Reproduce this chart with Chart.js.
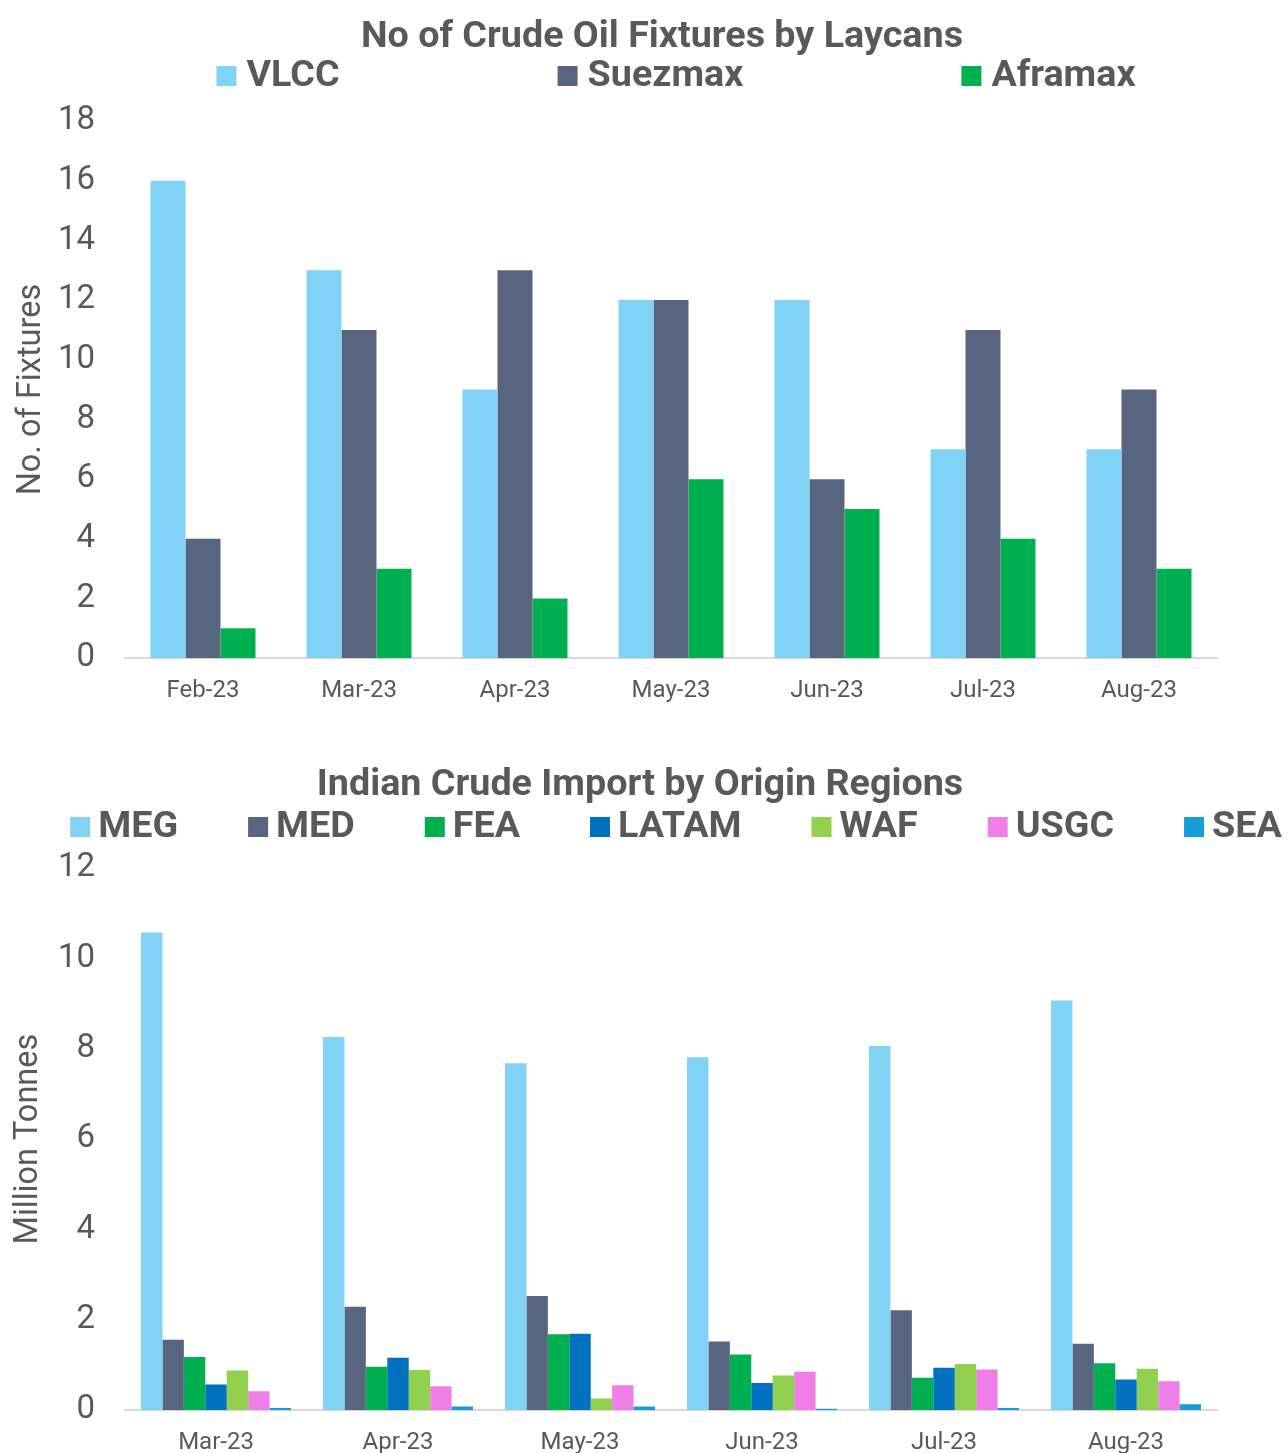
<!DOCTYPE html>
<html>
<head>
<meta charset="utf-8">
<script src="https://cdn.jsdelivr.net/npm/chart.js@4.4.1/dist/chart.umd.min.js"></script>
<style>
  html, body { margin: 0; padding: 0; background: #ffffff; }
  body { width: 1288px; height: 1453px; position: relative; overflow: hidden; }
  .panel { position: absolute; left: 0; width: 1288px; }
  #topPanel { top: 0; height: 723px; }
  #bottomPanel { top: 745px; height: 730px; }
</style>
</head>
<body>
<div class="panel" id="topPanel"><canvas id="fixturesChart"></canvas></div>
<div class="panel" id="bottomPanel"><canvas id="importChart"></canvas></div>
<script>
// Fixtures by laycan month
const fixtureMonths = ['Feb-23', 'Mar-23', 'Apr-23', 'May-23', 'Jun-23', 'Jul-23', 'Aug-23'];
const vlcc     = [16, 13, 9, 12, 12, 7, 7];
const suezmax  = [4, 11, 13, 12, 6, 11, 9];
const aframax  = [1, 3, 2, 6, 5, 4, 3];

// Indian crude imports by origin region (million tonnes)
const importMonths = ['Mar-23', 'Apr-23', 'May-23', 'Jun-23', 'Jul-23', 'Aug-23'];
const meg   = [10.57, 8.26, 7.68, 7.81, 8.06, 9.07];
const med   = [1.56, 2.29, 2.53, 1.52, 2.21, 1.47];
const fea   = [1.18, 0.96, 1.68, 1.23, 0.72, 1.04];
const latam = [0.57, 1.16, 1.69, 0.60, 0.94, 0.68];
const waf   = [0.88, 0.89, 0.26, 0.77, 1.02, 0.92];
const usgc  = [0.42, 0.53, 0.55, 0.85, 0.90, 0.64];
const sea   = [0.05, 0.08, 0.08, 0.03, 0.05, 0.13];

const TEXT = '#595959';
const FONT = 'Roboto, "Liberation Sans", Arial, sans-serif';
const PLOT_LEFT = 125;

// Header: bold title plus a legend row with wide, even spacing between entries
const chartHeader = {
  id: 'chartHeader',
  afterDraw(chart, args, opts) {
    const ctx = chart.ctx;
    ctx.save();
    ctx.font = `bold ${opts.fontSize}px ${FONT}`;
    ctx.fillStyle = TEXT;
    ctx.textBaseline = 'middle';
    ctx.textAlign = 'center';
    ctx.fillText(opts.title, opts.titleX, opts.titleY);

    const items = chart.data.datasets.map(d => ({ text: d.label, color: d.backgroundColor }));
    const widths = items.map(it => opts.box + opts.textGap + ctx.measureText(it.text).width);
    const total = widths.reduce((a, b) => a + b, 0) + opts.gap * (items.length - 1);
    let x = opts.legendX - total / 2;
    ctx.textAlign = 'left';
    items.forEach((it, i) => {
      ctx.fillStyle = it.color;
      ctx.fillRect(x, opts.legendY - opts.box / 2, opts.box, opts.box);
      ctx.fillStyle = TEXT;
      ctx.fillText(it.text, x + opts.box + opts.textGap, opts.legendY + 1);
      x += widths[i] + opts.gap;
    });
    ctx.restore();
  }
};

function barSet(label, data, color) {
  return { label, data, backgroundColor: color, borderWidth: 0, barPercentage: 1.0 };
}

function axes(yMax, yTitle, padLeft) {
  return {
    x: {
      grid: { display: false, drawTicks: false },
      border: { display: true, color: '#d9d9d9', width: 2 },
      ticks: { color: TEXT, font: { family: FONT, size: 24 }, padding: 18, maxRotation: 0 }
    },
    y: {
      min: 0, max: yMax,
      grid: { display: false, drawTicks: false },
      border: { display: false },
      ticks: { stepSize: 2, color: TEXT, font: { family: FONT, size: 33 }, padding: 30 },
      title: { display: true, text: yTitle, color: TEXT, font: { family: FONT, size: 32.5 }, padding: { top: 0, bottom: 6 } },
      afterFit(scale) { scale.width = PLOT_LEFT - padLeft; }
    }
  };
}

new Chart(document.getElementById('fixturesChart'), {
  type: 'bar',
  data: {
    labels: fixtureMonths,
    datasets: [
      barSet('VLCC', vlcc, '#81D3F6'),
      barSet('Suezmax', suezmax, '#58657F'),
      barSet('Aframax', aframax, '#00B050')
    ].map(d => Object.assign(d, { categoryPercentage: 0.673 }))
  },
  options: {
    responsive: true,
    maintainAspectRatio: false,
    animation: false,
    layout: { padding: { left: 12, right: 71, top: 121, bottom: 0 } },
    plugins: {
      legend: { display: false },
      tooltip: { enabled: false },
      title: { display: false },
      chartHeader: {
        title: 'No of Crude Oil Fixtures by Laycans', titleX: 662, titleY: 38,
        legendX: 676, legendY: 76, gap: 218, box: 20, textGap: 10, fontSize: 37.7
      }
    },
    scales: axes(18, 'No. of Fixtures', 12)
  },
  plugins: [chartHeader]
});

new Chart(document.getElementById('importChart'), {
  type: 'bar',
  data: {
    labels: importMonths,
    datasets: [
      barSet('MEG', meg, '#81D3F6'),
      barSet('MED', med, '#58657F'),
      barSet('FEA', fea, '#00B050'),
      barSet('LATAM', latam, '#0070C0'),
      barSet('WAF', waf, '#92D050'),
      barSet('USGC', usgc, '#F07EE7'),
      barSet('SEA', sea, '#179CD8')
    ].map(d => Object.assign(d, { categoryPercentage: 0.824 }))
  },
  options: {
    responsive: true,
    maintainAspectRatio: false,
    animation: false,
    layout: { padding: { left: 9, right: 71, top: 123, bottom: 0 } },
    plugins: {
      legend: { display: false },
      tooltip: { enabled: false },
      title: { display: false },
      chartHeader: {
        title: 'Indian Crude Import by Origin Regions', titleX: 640, titleY: 41,
        legendX: 676, legendY: 82, gap: 70, box: 20, textGap: 8, fontSize: 37.7
      }
    },
    scales: axes(12, 'Million Tonnes', 9)
  },
  plugins: [chartHeader]
});
</script>
</body>
</html>
